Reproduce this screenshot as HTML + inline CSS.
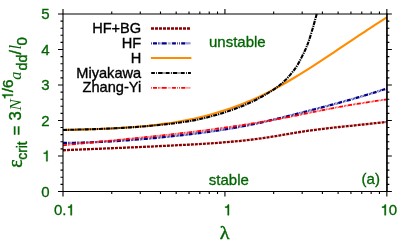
<!DOCTYPE html>
<html><head><meta charset="utf-8"><style>
html,body{margin:0;padding:0;background:#fff;}
body{width:407px;height:243px;overflow:hidden;}
svg{display:block;will-change:transform;opacity:0.999;}
text{font-family:"Liberation Sans",sans-serif;}
.t{font-size:15px;fill:#006400;stroke:#006400;stroke-width:0.3px;}
.k{font-size:14.6px;fill:#000;stroke:#000;stroke-width:0.35px;}
.mn{font-size:16.5px;stroke:#006400;stroke-width:0.4px}
.sb{font-size:15px;stroke:#006400;stroke-width:0.4px}
.it{font-family:'Liberation Serif',serif;font-style:italic;font-size:17px}
.sy{font-family:'Liberation Serif',serif}
</style></head><body>
<svg width="407" height="243" viewBox="0 0 407 243">
<rect width="407" height="243" fill="#fff"/>
<g fill="none" stroke-linecap="butt" stroke-linejoin="round">
<path d="M63.00 150.23 C64.33 150.17 68.33 150.00 71.00 149.89 C73.67 149.78 76.33 149.67 79.00 149.56 C81.67 149.45 84.33 149.34 87.00 149.23 C89.67 149.12 92.33 149.02 95.00 148.91 C97.67 148.80 100.33 148.69 103.00 148.58 C105.67 148.47 108.33 148.36 111.00 148.25 C113.67 148.14 116.33 148.03 119.00 147.92 C121.67 147.81 124.33 147.70 127.00 147.58 C129.67 147.47 132.33 147.36 135.00 147.24 C137.67 147.12 140.33 147.01 143.00 146.89 C145.67 146.77 148.33 146.65 151.00 146.53 C153.67 146.41 156.33 146.28 159.00 146.16 C161.67 146.03 164.33 145.90 167.00 145.77 C169.67 145.64 172.33 145.51 175.00 145.37 C177.67 145.23 180.33 145.10 183.00 144.95 C185.67 144.81 188.33 144.67 191.00 144.52 C193.67 144.37 196.33 144.22 199.00 144.06 C201.67 143.91 204.33 143.75 207.00 143.57 C209.67 143.40 212.33 143.23 215.00 143.04 C217.67 142.85 220.33 142.65 223.00 142.44 C225.67 142.23 228.33 142.01 231.00 141.77 C233.67 141.53 236.33 141.28 239.00 141.02 C241.67 140.75 244.33 140.46 247.00 140.16 C249.67 139.86 252.33 139.54 255.00 139.19 C257.67 138.85 260.33 138.49 263.00 138.10 C265.67 137.71 268.33 137.30 271.00 136.87 C273.67 136.45 276.33 136.00 279.00 135.55 C281.67 135.10 284.33 134.63 287.00 134.18 C289.67 133.73 292.33 133.26 295.00 132.82 C297.67 132.38 300.33 131.95 303.00 131.54 C305.67 131.13 308.33 130.74 311.00 130.38 C313.67 130.01 316.33 129.68 319.00 129.34 C321.67 129.01 324.33 128.69 327.00 128.38 C329.67 128.07 332.33 127.77 335.00 127.48 C337.67 127.18 340.33 126.89 343.00 126.61 C345.67 126.32 348.33 126.05 351.00 125.77 C353.67 125.49 356.33 125.21 359.00 124.93 C361.67 124.65 364.33 124.37 367.00 124.09 C369.67 123.81 372.33 123.52 375.00 123.23 C377.67 122.94 381.02 122.56 383.00 122.34 C384.98 122.12 386.21 121.97 386.85 121.89" stroke="#8b0000" stroke-width="2.3" stroke-dasharray="3 1"/>
<path d="M63.00 142.96 C64.33 142.94 68.33 142.90 71.00 142.85 C73.67 142.81 76.33 142.75 79.00 142.68 C81.67 142.61 84.33 142.53 87.00 142.44 C89.67 142.35 92.33 142.25 95.00 142.14 C97.67 142.02 100.33 141.90 103.00 141.77 C105.67 141.64 108.33 141.49 111.00 141.34 C113.67 141.19 116.33 141.03 119.00 140.85 C121.67 140.68 124.33 140.50 127.00 140.31 C129.67 140.12 132.33 139.92 135.00 139.71 C137.67 139.50 140.33 139.28 143.00 139.05 C145.67 138.83 148.33 138.59 151.00 138.34 C153.67 138.10 156.33 137.85 159.00 137.59 C161.67 137.32 164.33 137.05 167.00 136.78 C169.67 136.50 172.33 136.21 175.00 135.92 C177.67 135.63 180.33 135.33 183.00 135.02 C185.67 134.71 188.33 134.40 191.00 134.07 C193.67 133.75 196.33 133.42 199.00 133.08 C201.67 132.74 204.33 132.40 207.00 132.03 C209.67 131.67 212.33 131.30 215.00 130.92 C217.67 130.53 220.33 130.13 223.00 129.72 C225.67 129.30 228.33 128.88 231.00 128.43 C233.67 127.98 236.33 127.52 239.00 127.03 C241.67 126.55 244.33 126.04 247.00 125.52 C249.67 124.99 252.33 124.44 255.00 123.87 C257.67 123.30 260.33 122.70 263.00 122.09 C265.67 121.47 268.33 120.83 271.00 120.20 C273.67 119.56 276.33 118.92 279.00 118.27 C281.67 117.62 284.33 116.96 287.00 116.30 C289.67 115.64 292.33 114.97 295.00 114.30 C297.67 113.63 300.33 112.96 303.00 112.28 C305.67 111.60 308.33 110.91 311.00 110.23 C313.67 109.54 316.33 108.85 319.00 108.15 C321.67 107.46 324.33 106.76 327.00 106.05 C329.67 105.34 332.33 104.63 335.00 103.90 C337.67 103.18 340.33 102.45 343.00 101.71 C345.67 100.97 348.33 100.22 351.00 99.46 C353.67 98.70 356.33 97.93 359.00 97.15 C361.67 96.37 364.33 95.58 367.00 94.77 C369.67 93.96 372.33 93.15 375.00 92.31 C377.67 91.48 381.02 90.40 383.00 89.77 C384.98 89.13 386.21 88.72 386.85 88.51" stroke="#00008b" stroke-width="2.3" stroke-dasharray="4 1 0.7 0.65 0.7 0.65 0.7 0.6"/>
<path d="M63.00 129.97 C64.33 129.93 68.33 129.84 71.00 129.77 C73.67 129.71 76.33 129.64 79.00 129.57 C81.67 129.50 84.33 129.43 87.00 129.35 C89.67 129.27 92.33 129.19 95.00 129.10 C97.67 129.01 100.33 128.91 103.00 128.81 C105.67 128.70 108.33 128.59 111.00 128.46 C113.67 128.33 116.33 128.19 119.00 128.04 C121.67 127.89 124.33 127.72 127.00 127.54 C129.67 127.36 132.33 127.17 135.00 126.95 C137.67 126.74 140.33 126.51 143.00 126.25 C145.67 126.00 148.33 125.73 151.00 125.44 C153.67 125.15 156.33 124.84 159.00 124.50 C161.67 124.16 164.33 123.80 167.00 123.41 C169.67 123.03 172.33 122.62 175.00 122.18 C177.67 121.73 180.33 121.27 183.00 120.77 C185.67 120.27 188.33 119.75 191.00 119.19 C193.67 118.63 196.33 118.04 199.00 117.41 C201.67 116.78 204.33 116.13 207.00 115.43 C209.67 114.73 212.33 114.00 215.00 113.24 C217.67 112.47 220.33 111.66 223.00 110.81 C225.67 109.96 228.33 109.08 231.00 108.15 C233.67 107.22 236.33 106.25 239.00 105.23 C241.67 104.22 244.33 103.16 247.00 102.05 C249.67 100.94 252.33 99.79 255.00 98.59 C257.67 97.39 260.33 96.14 263.00 94.84 C265.67 93.54 268.33 92.20 271.00 90.81 C273.67 89.42 276.33 87.98 279.00 86.51 C281.67 85.05 284.33 83.53 287.00 81.99 C289.67 80.45 292.33 78.87 295.00 77.26 C297.67 75.66 300.33 74.02 303.00 72.36 C305.67 70.70 308.33 69.01 311.00 67.31 C313.67 65.61 316.33 63.88 319.00 62.14 C321.67 60.41 324.33 58.65 327.00 56.88 C329.67 55.12 332.33 53.34 335.00 51.56 C337.67 49.78 340.33 47.99 343.00 46.20 C345.67 44.41 348.33 42.62 351.00 40.84 C353.67 39.05 356.33 37.26 359.00 35.49 C361.67 33.72 364.33 31.95 367.00 30.19 C369.67 28.44 372.33 26.70 375.00 24.97 C377.67 23.25 381.02 21.11 383.00 19.86 C384.98 18.60 386.21 17.84 386.85 17.44" stroke="#ff8c00" stroke-width="2.1"/>
<path d="M63.00 129.97 C64.33 129.93 68.33 129.84 71.00 129.77 C73.67 129.71 76.33 129.64 79.00 129.57 C81.67 129.50 84.33 129.43 87.00 129.35 C89.67 129.27 92.33 129.19 95.00 129.10 C97.67 129.01 100.33 128.91 103.00 128.81 C105.67 128.70 108.33 128.58 111.00 128.46 C113.67 128.33 116.33 128.20 119.00 128.06 C121.67 127.92 124.33 127.77 127.00 127.61 C129.67 127.44 132.33 127.27 135.00 127.08 C137.67 126.89 140.33 126.69 143.00 126.47 C145.67 126.25 148.33 126.00 151.00 125.76 C153.67 125.51 156.33 125.25 159.00 124.99 C161.67 124.72 164.33 124.45 167.00 124.15 C169.67 123.85 172.33 123.52 175.00 123.18 C177.67 122.83 180.33 122.47 183.00 122.08 C185.67 121.69 188.33 121.30 191.00 120.84 C193.67 120.37 196.33 119.86 199.00 119.29 C201.67 118.72 204.33 118.08 207.00 117.42 C209.67 116.75 212.33 116.05 215.00 115.30 C217.67 114.55 220.33 113.75 223.00 112.91 C225.67 112.07 228.33 111.18 231.00 110.25 C233.67 109.32 236.33 108.37 239.00 107.33 C241.67 106.30 244.33 105.21 247.00 104.04 C249.67 102.87 252.33 101.64 255.00 100.29 C257.67 98.94 260.33 97.47 263.00 95.96 C265.67 94.46 268.33 92.95 271.00 91.25 C273.67 89.54 276.58 87.61 279.00 85.73 C281.42 83.86 283.33 82.19 285.50 80.00 C287.67 77.81 290.00 75.10 292.00 72.60 C294.00 70.10 295.30 68.77 297.50 65.00 C299.70 61.23 303.27 54.17 305.20 50.00 C307.13 45.83 307.73 44.00 309.10 40.00 C310.47 36.00 312.13 30.33 313.40 26.00 C314.67 21.67 316.15 16.00 316.70 14.00" stroke="#000" stroke-width="2.1" stroke-dasharray="4.2 0.9 1.2 0.9"/>
<path d="M63.00 145.25 C64.33 145.11 68.33 144.72 71.00 144.46 C73.67 144.20 76.33 143.94 79.00 143.68 C81.67 143.42 84.33 143.16 87.00 142.90 C89.67 142.64 92.33 142.39 95.00 142.13 C97.67 141.87 100.33 141.61 103.00 141.35 C105.67 141.09 108.33 140.83 111.00 140.57 C113.67 140.31 116.33 140.05 119.00 139.79 C121.67 139.53 124.33 139.26 127.00 139.00 C129.67 138.73 132.33 138.46 135.00 138.19 C137.67 137.92 140.33 137.65 143.00 137.37 C145.67 137.10 148.33 136.82 151.00 136.54 C153.67 136.26 156.33 135.97 159.00 135.68 C161.67 135.40 164.33 135.11 167.00 134.81 C169.67 134.51 172.33 134.21 175.00 133.91 C177.67 133.61 180.33 133.30 183.00 132.98 C185.67 132.67 188.33 132.35 191.00 132.03 C193.67 131.71 196.33 131.38 199.00 131.04 C201.67 130.71 204.33 130.37 207.00 130.02 C209.67 129.67 212.33 129.32 215.00 128.96 C217.67 128.60 220.33 128.24 223.00 127.86 C225.67 127.49 228.33 127.11 231.00 126.72 C233.67 126.34 236.33 125.94 239.00 125.54 C241.67 125.14 244.33 124.73 247.00 124.31 C249.67 123.89 252.33 123.46 255.00 123.02 C257.67 122.59 260.33 122.14 263.00 121.69 C265.67 121.23 268.33 120.77 271.00 120.30 C273.67 119.83 276.33 119.34 279.00 118.85 C281.67 118.36 284.33 117.86 287.00 117.34 C289.67 116.83 292.33 116.31 295.00 115.77 C297.67 115.24 300.33 114.70 303.00 114.16 C305.67 113.62 308.33 113.06 311.00 112.52 C313.67 111.97 316.33 111.43 319.00 110.89 C321.67 110.35 324.33 109.81 327.00 109.28 C329.67 108.76 332.33 108.24 335.00 107.74 C337.67 107.24 340.33 106.75 343.00 106.27 C345.67 105.80 348.33 105.35 351.00 104.90 C353.67 104.45 356.33 104.02 359.00 103.60 C361.67 103.17 364.33 102.75 367.00 102.34 C369.67 101.93 372.33 101.52 375.00 101.12 C377.67 100.71 381.02 100.20 383.00 99.90 C384.98 99.60 386.21 99.41 386.85 99.31" stroke="#ff0000" stroke-width="1.8" stroke-dasharray="4 1 0.7 0.65 0.7 0.65 0.7 0.6"/>
</g>
<g fill="none">
<path d="M151 28.5H191" stroke="#8b0000" stroke-width="2.3" stroke-dasharray="3 1"/>
<path d="M150.9 58H191.4" stroke="#ff8c00" stroke-width="2"/>
<path d="M151.1 43.30H151.8 M153.0 43.30H157.0 M158.1 43.30H158.8 M159.5 43.30H160.1 M160.8 43.30H161.4 M162.0 43.30H166.7 M172.1 43.30H175.9 M177.1 43.30H177.8 M179.1 43.30H179.9 M181.2 43.30H185.0" stroke="#00008b" stroke-width="2.3"/><path d="M167.9 43.30H168.5 M169.4 43.30H169.9 M170.6 43.30H171.2" stroke="#00008b" stroke-width="2.3" stroke-opacity="0.65"/><path d="M185.0 43.30H190.6" stroke="#00008b" stroke-width="2.3" stroke-opacity="0.38"/><path d="M151.2 73.00H154.9 M156.0 73.00H156.8 M158.1 73.00H162.6 M165.8 73.00H169.6 M170.9 73.00H171.8 M172.9 73.00H177.1 M180.9 73.00H184.7 M186.0 73.00H186.8 M188.0 73.00H190.9" stroke="#000" stroke-width="1.9"/><path d="M162.6 73.00H165.8 M177.1 73.00H180.9" stroke="#000" stroke-width="1.9" stroke-opacity="0.38"/><path d="M151.1 87.85H151.8 M153.0 87.85H157.0 M158.1 87.85H158.8 M159.5 87.85H160.1 M160.8 87.85H161.4 M162.0 87.85H166.7 M172.1 87.85H175.9 M177.1 87.85H177.8 M179.1 87.85H179.9 M181.2 87.85H185.0" stroke="#ff0000" stroke-width="1.8"/><path d="M167.9 87.85H168.5 M169.4 87.85H169.9 M170.6 87.85H171.2" stroke="#ff0000" stroke-width="1.8" stroke-opacity="0.65"/><path d="M185.0 87.85H190.6" stroke="#ff0000" stroke-width="1.8" stroke-opacity="0.38"/>
</g>
<g class="k" text-anchor="end">
<text x="141.2" y="33.2">HF+BG</text>
<text x="141.2" y="47.6">HF</text>
<text x="141.2" y="62.8">H</text>
<text x="141.2" y="77.6">Miyakawa</text>
<text x="141.2" y="92.2">Zhang-Yi</text>
</g>
<g stroke="#000" stroke-width="1.1" fill="none">
<path d="M63.0 13.45V192.0 M62.45 14.0H387.40000000000003 M62.45 191.45H387.40000000000003"/><path d="M386.95000000000005 13.45V192.0" stroke-width="1.7"/>
<path d="M63.00 191.45 v5.00 M63.00 14.00 v-5.00 M111.74 191.45 v2.50 M111.74 14.00 v-2.50 M140.26 191.45 v2.50 M140.26 14.00 v-2.50 M160.49 191.45 v2.50 M160.49 14.00 v-2.50 M176.18 191.45 v2.50 M176.18 14.00 v-2.50 M189.00 191.45 v2.50 M189.00 14.00 v-2.50 M199.84 191.45 v2.50 M199.84 14.00 v-2.50 M209.23 191.45 v2.50 M209.23 14.00 v-2.50 M217.52 191.45 v2.50 M217.52 14.00 v-2.50 M224.93 191.45 v5.00 M224.93 14.00 v-5.00 M273.67 191.45 v2.50 M273.67 14.00 v-2.50 M302.18 191.45 v2.50 M302.18 14.00 v-2.50 M322.41 191.45 v2.50 M322.41 14.00 v-2.50 M338.11 191.45 v2.50 M338.11 14.00 v-2.50 M350.93 191.45 v2.50 M350.93 14.00 v-2.50 M361.77 191.45 v2.50 M361.77 14.00 v-2.50 M371.16 191.45 v2.50 M371.16 14.00 v-2.50 M379.44 191.45 v2.50 M379.44 14.00 v-2.50 M386.85 191.45 v5.00 M386.85 14.00 v-5.00 M63.00 191.45 h-5.00 M386.85 191.45 h5.00 M63.00 184.35 h-2.50 M386.85 184.35 h2.50 M63.00 177.25 h-2.50 M386.85 177.25 h2.50 M63.00 170.16 h-2.50 M386.85 170.16 h2.50 M63.00 163.06 h-2.50 M386.85 163.06 h2.50 M63.00 155.96 h-5.00 M386.85 155.96 h5.00 M63.00 148.86 h-2.50 M386.85 148.86 h2.50 M63.00 141.76 h-2.50 M386.85 141.76 h2.50 M63.00 134.67 h-2.50 M386.85 134.67 h2.50 M63.00 127.57 h-2.50 M386.85 127.57 h2.50 M63.00 120.47 h-5.00 M386.85 120.47 h5.00 M63.00 113.37 h-2.50 M386.85 113.37 h2.50 M63.00 106.27 h-2.50 M386.85 106.27 h2.50 M63.00 99.18 h-2.50 M386.85 99.18 h2.50 M63.00 92.08 h-2.50 M386.85 92.08 h2.50 M63.00 84.98 h-5.00 M386.85 84.98 h5.00 M63.00 77.88 h-2.50 M386.85 77.88 h2.50 M63.00 70.78 h-2.50 M386.85 70.78 h2.50 M63.00 63.69 h-2.50 M386.85 63.69 h2.50 M63.00 56.59 h-2.50 M386.85 56.59 h2.50 M63.00 49.49 h-5.00 M386.85 49.49 h5.00 M63.00 42.39 h-2.50 M386.85 42.39 h2.50 M63.00 35.29 h-2.50 M386.85 35.29 h2.50 M63.00 28.20 h-2.50 M386.85 28.20 h2.50 M63.00 21.10 h-2.50 M386.85 21.10 h2.50 M63.00 14.00 h-5.00 M386.85 14.00 h5.00"/>
</g>
<text x="49.6" y="196.75" text-anchor="end" class="t">0</text><text x="49.6" y="125.77" text-anchor="end" class="t">2</text><text x="49.6" y="90.28" text-anchor="end" class="t">3</text><text x="49.6" y="54.79" text-anchor="end" class="t">4</text><text x="49.6" y="19.30" text-anchor="end" class="t">5</text><path d="M271 0V-505H102V-568C200 -572 260 -600 290 -709H359V0Z" transform="translate(42.20 161.26) scale(0.0150)" fill="#006400" stroke="#006400" stroke-width="26.7" />
<text class="t" x="54" y="215.2">0.</text><path d="M271 0V-505H102V-568C200 -572 260 -600 290 -709H359V0Z" transform="translate(66.50 215.20) scale(0.0150)" fill="#006400" stroke="#006400" stroke-width="26.7" />
<path d="M271 0V-505H102V-568C200 -572 260 -600 290 -709H359V0Z" transform="translate(223.60 215.20) scale(0.0150)" fill="#006400" stroke="#006400" stroke-width="26.7" />
<path d="M271 0V-505H102V-568C200 -572 260 -600 290 -709H359V0Z" transform="translate(380.50 215.20) scale(0.0150)" fill="#006400" stroke="#006400" stroke-width="26.7" /><text class="t" x="388.8" y="215.2">0</text>
<text class="t" x="209" y="47.4">unstable</text>
<text class="t" x="208.8" y="185.3">stable</text>
<text class="t" x="361.6" y="184.1">(a)</text>
<text transform="translate(219.8 238.6) scale(1.12 1)" x="0" y="0" style="font-family:'Liberation Serif',serif;font-size:18px;fill:#006400;stroke:#006400;stroke-width:0.35px">λ</text>
<g transform="translate(21.3 168) rotate(-90)" fill="#006400" class="yl">
<text x="0.2" y="0.7" class="sy" style="font-size:20px;stroke:#006400;stroke-width:0.4px">ε</text>
<text x="8.3" y="6" class="sb" style="font-size:13.8px">crit</text>
<text x="32.8" y="0.7" class="mn">=</text>
<text x="47.6" y="0" class="mn">3</text>
<text x="57.6" y="0" class="it">N</text>
<path d="M271 0V-505H102V-568C200 -572 260 -600 290 -709H359V0Z" transform="translate(68.20 -8.40) scale(0.0150)" fill="#006400" stroke="#006400" stroke-width="26.7" /><text x="75.8" y="-8.4" class="sb">/6</text>
<text x="88.3" y="0" class="it" style="font-size:16.5px">a</text>
<text x="97.4" y="6" class="sb" style="font-size:14.5px">dd</text>
<text x="113.6" y="0" class="mn">/</text>
<text x="118.6" y="0" class="it">l</text>
<text x="122.6" y="6" class="sb">0</text>
</g>
</svg>
</body></html>
